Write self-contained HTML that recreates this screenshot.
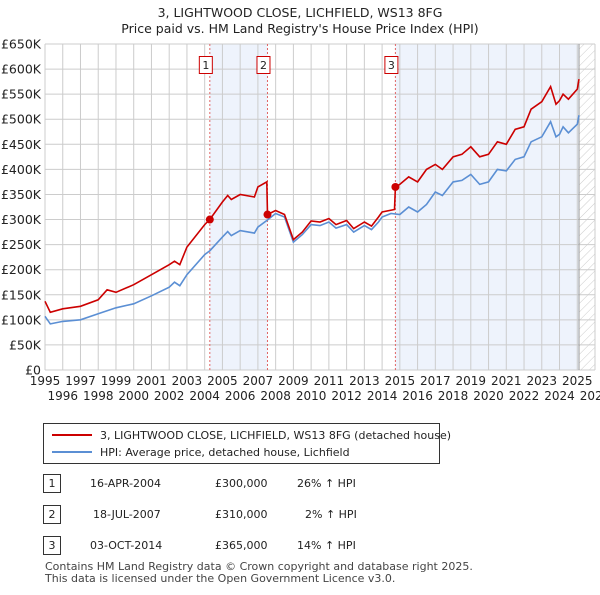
<!DOCTYPE html>
<html><head><meta charset="utf-8"><style>
body{margin:0;background:#fff;font-family:"Liberation Sans","DejaVu Sans",sans-serif;}
svg text{font-family:"DejaVu Sans","Liberation Sans",sans-serif;}
</style></head><body>
<svg id="c" width="600" height="590" viewBox="0 0 600 590" xmlns="http://www.w3.org/2000/svg">
<defs><pattern id="hatch" width="6" height="6" patternUnits="userSpaceOnUse" patternTransform="rotate(45)"><line x1="0" y1="0" x2="0" y2="6" stroke="#ccc" stroke-width="1"/></pattern></defs>
<text x="300" y="17" text-anchor="middle" font-size="12.5" fill="#222">3, LIGHTWOOD CLOSE, LICHFIELD, WS13 8FG</text>
<text x="300" y="33" text-anchor="middle" font-size="12.5" fill="#222">Price paid vs. HM Land Registry's House Price Index (HPI)</text>
<g id="plot"></g>
<g>
<rect x="43.5" y="423.5" width="396" height="40" fill="#fff" stroke="#333"/>
<line x1="52" y1="435" x2="92" y2="435" stroke="#cc0000" stroke-width="2"/>
<text x="100" y="439" font-size="11" fill="#222">3, LIGHTWOOD CLOSE, LICHFIELD, WS13 8FG (detached house)</text>
<line x1="52" y1="452" x2="92" y2="452" stroke="#5b8fd4" stroke-width="2"/>
<text x="100" y="456" font-size="11" fill="#222">HPI: Average price, detached house, Lichfield</text>
</g>
<g font-size="11" fill="#222">
<rect x="43.5" y="474.5" width="17" height="18" fill="#fff" stroke="#333"/><text x="52" y="487" text-anchor="middle">1</text>
<text x="90" y="487">16-APR-2004</text><text x="215" y="487">£300,000</text><text x="297" y="487">26% ↑ HPI</text>
<rect x="43.5" y="505.5" width="17" height="18" fill="#fff" stroke="#333"/><text x="52" y="518" text-anchor="middle">2</text>
<text x="93" y="518">18-JUL-2007</text><text x="215" y="518">£310,000</text><text x="305" y="518">2% ↑ HPI</text>
<rect x="43.5" y="536.5" width="17" height="18" fill="#fff" stroke="#333"/><text x="52" y="549" text-anchor="middle">3</text>
<text x="90" y="549">03-OCT-2014</text><text x="215" y="549">£365,000</text><text x="297" y="549">14% ↑ HPI</text>
</g>
<text x="45" y="570" font-size="11" fill="#444">Contains HM Land Registry data © Crown copyright and database right 2025.</text>
<text x="45" y="582" font-size="11" fill="#444">This data is licensed under the Open Government Licence v3.0.</text>
</svg>
<script>
const hpiYears=[1995,1995.3,1996,1997,1998,1998.5,1999,2000,2001,2002,2002.3,2002.6,2003,2004,2004.3,2005,2005.3,2005.5,2006,2006.8,2007,2007.5,2008,2008.5,2009,2009.5,2010,2010.5,2011,2011.4,2012,2012.4,2013,2013.4,2013.8,2014,2014.5,2015,2015.5,2016,2016.5,2017,2017.4,2018,2018.5,2019,2019.5,2020,2020.5,2021,2021.5,2022,2022.4,2023,2023.5,2023.8,2024,2024.2,2024.5,2025,2025.1];
const hpiValues=[107,92,97,100,112,118,124,132,148,165,175,168,190,230,238,265,276,268,278,273,285,298,312,305,255,270,290,288,295,283,290,275,288,280,295,305,312,310,325,315,330,355,348,375,378,390,370,375,400,397,420,425,455,465,495,465,470,485,473,490,508];
const ppYears=[1995,1995.3,1996,1997,1998,1998.5,1999,2000,2001,2002,2002.3,2002.6,2003,2004,2004.29,2005,2005.3,2005.5,2006,2006.8,2007,2007.5,2007.54,2008,2008.5,2009,2009.5,2010,2010.5,2011,2011.4,2012,2012.4,2013,2013.4,2013.8,2014,2014.7,2014.75,2015,2015.5,2016,2016.5,2017,2017.4,2018,2018.5,2019,2019.5,2020,2020.5,2021,2021.5,2022,2022.4,2023,2023.5,2023.8,2024,2024.2,2024.5,2025,2025.1];
const ppValues=[137,115,122,127,140,160,155,170,190,210,217,210,245,290,300,335,348,340,350,345,365,375,310,318,310,260,275,297,295,302,290,298,282,295,287,305,315,320,365,370,385,375,400,410,400,425,430,445,425,430,455,450,480,485,520,535,565,530,537,550,540,560,580];
const saleYears=[2004.29,2007.54,2014.75];
const saleValues=[300,310,365];
const saleLabels=["1","2","3"];
const yTicks=[0,50,100,150,200,250,300,350,400,450,500,550,600,650];
const yTickLabels=["£0","£50K","£100K","£150K","£200K","£250K","£300K","£350K","£400K","£450K","£500K","£550K","£600K","£650K"];
const xTicks=[1995,1996,1997,1998,1999,2000,2001,2002,2003,2004,2005,2006,2007,2008,2009,2010,2011,2012,2013,2014,2015,2016,2017,2018,2019,2020,2021,2022,2023,2024,2025,2026];
const dataEnd=2025.1;

const L=45,R=595,T=44,B=370,X0=1995,X1=2026,YMAX=650;
const xs=v=>L+(v-X0)/(X1-X0)*(R-L);
const ys=v=>B-v/YMAX*(B-T);
const NS="http://www.w3.org/2000/svg";
const g=document.getElementById('plot');
function mk(t,a,p){const e=document.createElementNS(NS,t);for(const k in a)e.setAttribute(k,a[k]);(p||g).appendChild(e);return e;}
let sh=mk('rect',{x:xs(saleYears[0]),y:T,width:xs(saleYears[1])-xs(saleYears[0]),height:B-T,fill:'#eef3fc'});


let sh2=mk('rect',{x:xs(saleYears[2]),y:T,width:xs(dataEnd)-xs(saleYears[2]),height:B-T,fill:'#eef3fc'});


let ht=mk('rect',{x:xs(dataEnd),y:T,width:R-xs(dataEnd),height:B-T,fill:'url(#hatch)'});


yTicks.forEach((v,i)=>{
 let l=mk('line',{x1:L,x2:R,y1:ys(v),y2:ys(v),stroke:'#ccc','stroke-width':1});
 
 
 let t=mk('text',{x:L-4,y:ys(v)+4.5,'text-anchor':'end','font-size':12.5,fill:'#222'});
 t.textContent=yTickLabels[i];
 
 
});
xTicks.forEach((v,i)=>{
 let l=mk('line',{x1:xs(v),x2:xs(v),y1:T,y2:B,stroke:'#ccc','stroke-width':1});
 
 
 let t=mk('text',{x:xs(v),y:i%2?400:385,'text-anchor':'middle','font-size':12,fill:'#222'});
 t.textContent=v;
 
 
});
let ed=mk('line',{x1:xs(dataEnd),x2:xs(dataEnd),y1:T,y2:B,stroke:'#999','stroke-width':1});


saleYears.forEach((v,i)=>{
 let l=mk('line',{x1:xs(v),x2:xs(v),y1:T,y2:B,stroke:'#e06666','stroke-width':1,'stroke-dasharray':'2,2'});
 
 
 let r=mk('rect',{x:xs(v)-10.5,y:56.5,width:13,height:17,fill:'#fff',stroke:'#cc0000'});
 
 
 let t=mk('text',{x:xs(v)-4,y:69,'text-anchor':'middle','font-size':11,fill:'#222'});
 t.textContent=saleLabels[i];
 
 
});
const path=(xa,va)=>xa.map((x,i)=>(i?'L':'M')+xs(x).toFixed(1)+','+ys(va[i]).toFixed(1)).join('');
let hp=mk('path',{d:path(hpiYears,hpiValues),fill:'none',stroke:'#5b8fd4','stroke-width':1.6});


let pp=mk('path',{d:path(ppYears,ppValues),fill:'none',stroke:'#cc0000','stroke-width':1.6});


saleYears.forEach((v,i)=>{
 let c=mk('circle',{cx:xs(v),cy:ys(saleValues[i]),r:4,fill:'#cc0000'});
 
 
});
</script>
</body></html>
